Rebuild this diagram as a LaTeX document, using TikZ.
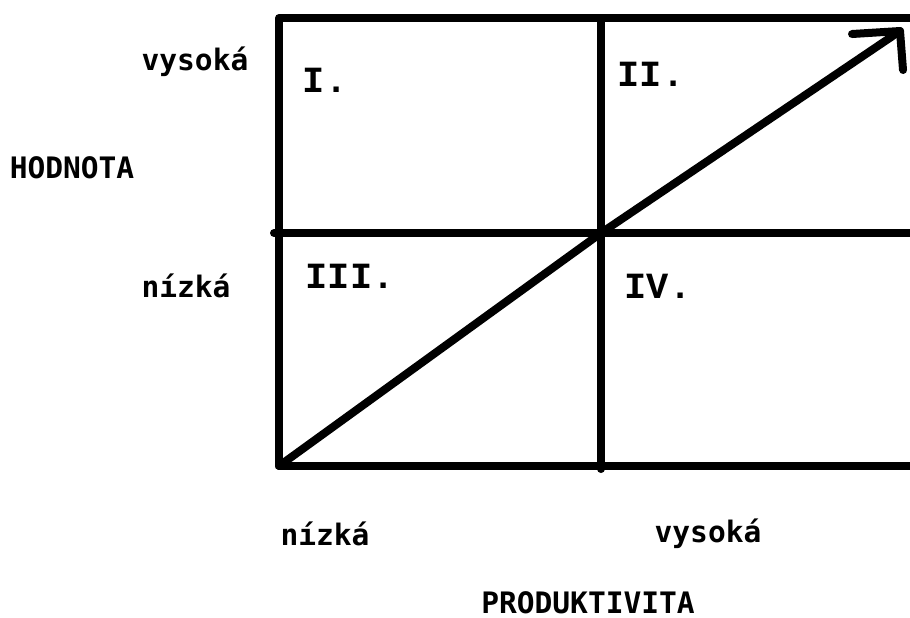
\documentclass[tikz,border=0pt]{standalone}
\usepackage{fontspec}
\newfontfamily\popisfont{DejaVu Sans Mono}
\newfontfamily\kvadfont{Liberation Mono}
\begin{document}
\begin{tikzpicture}[
x=0.01cm, y=-0.01cm,
line width=0.08cm, line cap=round, line join=round,
popis/.style={font=\popisfont\bfseries\fontsize{8.4}{10}\selectfont, inner sep=0pt},
kvadrant/.style={font=\kvadfont\bfseries\fontsize{10.5}{12}\selectfont, inner sep=0pt}
]
\useasboundingbox (0,0) rectangle (910,617);
% grid
\coordinate (lh) at (279,18);
\coordinate (ph) at (915,18);
\coordinate (ls) at (274,233);
\coordinate (ps) at (915,233);
\coordinate (ld) at (279,466);
\coordinate (pd) at (915,466);
\coordinate (sh) at (601,18);
\coordinate (sd) at (601,469);
\coordinate (stred) at (601,233);
% arrow
\coordinate (vrchol) at (900,31);
\coordinate (hrotl) at (852,34);
\coordinate (hrotd) at (903,70);
\draw (ph) -- (lh) -- (ld) -- (pd);
\draw (ls) -- (ps);
\draw (sh) -- (sd);
\draw (ld) -- (stred) -- (vrchol);
\draw (hrotl) -- (vrchol) -- (hrotd);
% labels
\node[popis] (yvys) at (195,62) {vysoká};
\node[popis] (hodnota) at (72,168) {HODNOTA};
\node[popis] (ynis) at (186,286) {nízká};
\node[popis] (xnis) at (325,534) {nízká};
\node[popis] (xvys) at (708,534) {vysoká};
\node[popis] (produktivita) at (588,603) {PRODUKTIVITA};
\node[kvadrant] (q1) at (325,80) {I.};
\node[kvadrant] (q2) at (651,74) {II.};
\node[kvadrant] (q3) at (350,276) {III.};
\node[kvadrant] (q4) at (658,286) {IV.};
\end{tikzpicture}
\end{document}
